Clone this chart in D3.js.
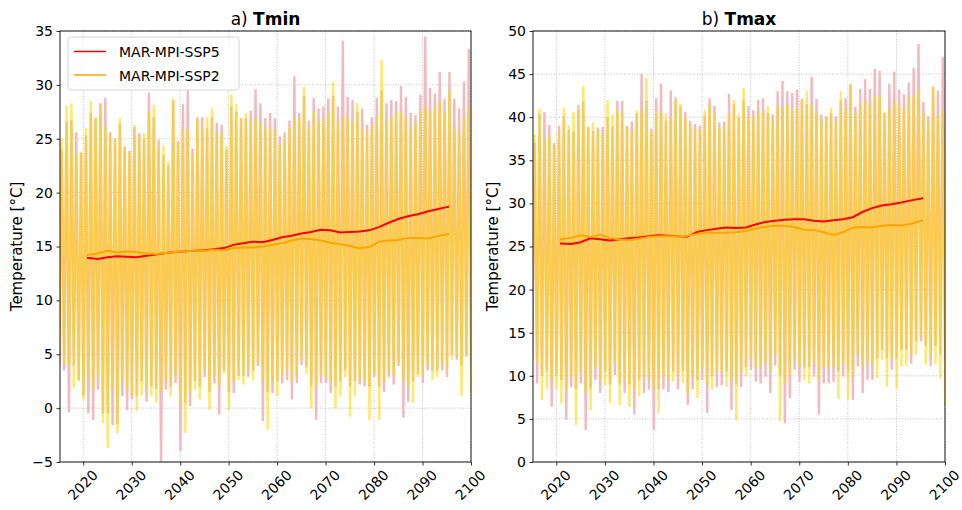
<!DOCTYPE html>
<html>
<head>
<meta charset="utf-8">
<script src="https://cdn.jsdelivr.net/npm/d3@7"></script>
<style>
  body { margin: 0; background: #fff; }
  text { font-family: "DejaVu Sans", sans-serif; fill: #000; }
</style>
</head>
<body>
<svg id="chart" width="962" height="510"></svg>
<script>
// one summer peak and one winter trough per year
var years = d3.range(2015, 2101);

var tminPeakSsp5 = [24.0,
  26.6, 26.7, 25.6, 23.7, 25.3, 27.4, 26.9, 28.3, 28.8, 25.6,
  25.0, 26.4, 24.3, 23.9, 26.1, 25.5, 25.0, 29.3, 27.0, 24.9,
  23.5, 22.5, 28.6, 24.8, 28.2, 29.5, 24.1, 27.0, 27.0, 26.0,
  27.0, 26.5, 26.3, 24.0, 28.0, 27.5, 26.9, 26.9, 27.6, 29.6,
  28.3, 26.9, 27.4, 26.9, 25.2, 25.6, 26.7, 30.8, 27.4, 29.0,
  26.7, 28.8, 27.8, 28.0, 28.7, 29.0, 28.0, 34.1, 28.9, 28.6,
  27.5, 27.8, 26.3, 27.0, 28.8, 29.5, 28.3, 28.6, 28.5, 29.9,
  28.9, 27.4, 27.2, 29.1, 34.5, 29.7, 29.2, 31.2, 28.7, 31.2,
  28.7, 27.8, 30.3, 33.3, 31.0];
var tminPeakSsp2 = [25.0,
  28.1, 28.3, 23.6, 23.8, 26.0, 28.5, 27.0, 28.2, 26.1, 25.5,
  24.9, 26.9, 24.2, 23.8, 26.3, 25.2, 25.5, 27.5, 28.1, 24.3,
  24.3, 22.9, 28.7, 24.6, 26.0, 25.8, 23.5, 26.8, 26.0, 27.0,
  27.8, 25.5, 25.6, 24.3, 29.1, 28.2, 26.9, 27.4, 26.5, 27.0,
  26.5, 25.9, 26.0, 25.8, 24.5, 25.0, 26.0, 27.0, 26.8, 29.8,
  26.0, 27.5, 26.5, 26.8, 27.5, 30.3, 26.5, 27.0, 27.0, 26.5,
  28.3, 26.0, 25.5, 26.2, 27.0, 32.3, 26.5, 27.0, 27.5, 27.5,
  27.0, 26.0, 26.5, 27.5, 28.0, 27.5, 28.0, 28.5, 27.5, 29.5,
  26.0, 25.5, 27.0, 28.0, 28.0];
var tminTroughSsp5 = [4.0,
  3.5, -0.4, 3.9, 2.6, 1.1, -0.5, -1.1, 1.7, -0.5, -0.5,
  -1.6, -1.5, 1.1, -0.2, 0.8, 1.1, 2.5, 0.6, 2.0, 1.8,
  -5.2, 1.7, 2.0, 2.3, -4.0, 0.5, 0.2, 2.5, 2.0, 2.9,
  1.5, 2.3, -0.6, 3.5, 1.5, 1.4, 3.0, 3.0, 2.9, 3.5,
  3.9, -1.2, 1.5, 1.4, 2.5, 2.3, 2.6, 0.8, 2.3, 4.0,
  3.8, 2.0, -1.1, 2.3, 2.3, 1.4, 2.0, 2.5, 3.5, 2.0,
  2.5, 2.2, 2.0, 2.0, 2.9, 2.0, 1.5, 2.9, 2.2, 3.9,
  -0.9, 0.6, 2.5, 3.2, 2.3, 3.5, 3.5, 3.5, 3.5, 2.9,
  5.0, 4.5, 4.0, 4.8, 4.0];
var tminTroughSsp2 = [5.0,
  4.0, 3.9, 1.9, 2.5, 0.8, 2.9, 1.7, 3.0, -1.4, -3.7,
  1.7, -2.3, 2.5, 1.7, 1.1, -0.3, 1.2, 2.0, 1.1, 0.5,
  1.5, 2.5, 1.1, 3.0, 0.5, -2.3, 1.5, 1.7, 0.8, 3.5,
  -0.1, 3.0, 2.0, 3.2, -0.2, 2.5, 2.6, 2.2, 3.5, 2.6,
  4.2, 2.5, -2.0, 2.5, 1.1, 3.0, 3.5, 2.5, 3.0, 4.5,
  3.2, 0.0, 2.0, 3.0, 2.8, 2.5, 0.0, 1.1, 2.9, -0.8,
  1.1, 2.8, 2.5, -1.1, 3.2, -1.1, 2.5, 3.5, 3.0, 4.2,
  2.5, 2.0, 0.5, 2.9, 3.0, 4.0, 2.6, 2.9, 4.0, 3.5,
  4.5, 5.0, 1.1, 5.0, 1.5];

var tmaxPeakSsp5 = [37.0,
  40.4, 40.6, 39.1, 37.0, 39.0, 40.1, 38.5, 38.3, 41.4, 41.8,
  38.9, 38.4, 38.8, 38.9, 40.0, 38.9, 41.9, 41.9, 39.0, 39.5,
  40.4, 45.0, 41.9, 38.7, 42.2, 43.9, 39.6, 43.1, 42.3, 41.2,
  40.6, 39.6, 39.2, 39.0, 40.2, 42.2, 41.3, 39.4, 39.5, 42.7,
  41.5, 40.0, 42.0, 41.3, 40.8, 42.0, 42.2, 40.5, 40.3, 43.0,
  44.2, 43.0, 42.8, 43.2, 42.1, 41.5, 44.7, 42.1, 40.3, 40.1,
  40.5, 40.1, 42.0, 42.2, 43.8, 41.2, 43.3, 44.4, 43.3, 45.6,
  45.4, 40.4, 43.9, 45.3, 43.2, 42.7, 44.0, 45.7, 48.5, 41.8,
  40.1, 43.5, 43.1, 47.0, 45.0];
var tmaxPeakSsp2 = [38.0,
  41.0, 37.4, 38.0, 36.8, 38.3, 41.1, 39.1, 40.6, 40.8, 43.6,
  38.8, 39.4, 38.5, 38.0, 42.0, 40.3, 40.8, 40.6, 38.9, 38.5,
  40.8, 40.8, 44.6, 38.3, 40.5, 40.6, 40.4, 39.8, 42.0, 41.6,
  39.9, 39.1, 38.7, 38.5, 40.8, 41.6, 40.4, 38.8, 38.8, 40.4,
  42.0, 40.3, 43.4, 40.0, 40.0, 40.8, 40.5, 41.3, 39.5, 41.3,
  41.0, 41.5, 40.8, 41.0, 42.0, 43.0, 41.5, 40.5, 39.8, 40.0,
  41.1, 39.5, 43.0, 41.0, 43.9, 40.5, 41.5, 42.0, 41.5, 42.5,
  42.5, 40.6, 41.0, 42.0, 41.5, 41.0, 42.5, 42.5, 43.2, 40.5,
  39.5, 43.6, 40.0, 41.0, 41.0];
var tmaxTroughSsp5 = [12.0,
  9.1, 10.0, 10.5, 6.4, 10.0, 9.5, 4.9, 8.7, 8.5, 9.1,
  3.7, 8.5, 9.5, 8.0, 10.5, 9.0, 10.1, 9.0, 8.0, 9.0,
  5.5, 9.5, 8.0, 8.4, 3.7, 8.5, 8.4, 8.1, 10.5, 8.4,
  10.5, 6.6, 8.4, 9.5, 9.5, 5.7, 10.0, 8.7, 8.9, 10.5,
  6.0, 9.0, 8.7, 11.0, 10.7, 9.3, 9.1, 9.9, 8.0, 11.2,
  10.0, 4.5, 7.4, 10.7, 9.3, 11.0, 11.0, 9.9, 5.5, 9.1,
  9.1, 9.3, 10.5, 9.9, 10.5, 7.2, 11.1, 8.0, 9.5, 9.5,
  12.0, 13.0, 12.0, 10.7, 12.0, 13.0, 13.0, 11.4, 14.0, 14.0,
  13.5, 11.1, 13.5, 12.5, 12.0];
var tmaxTroughSsp2 = [13.0,
  11.5, 7.2, 8.4, 9.5, 8.4, 6.8, 8.5, 10.0, 4.3, 10.5,
  8.0, 6.0, 11.0, 9.5, 8.9, 6.8, 11.5, 6.6, 9.5, 6.4,
  8.5, 7.6, 10.0, 9.5, 8.5, 5.6, 10.0, 9.5, 9.3, 10.0,
  9.1, 8.0, 10.0, 7.4, 11.0, 9.0, 8.4, 10.5, 10.5, 8.7,
  9.5, 4.8, 10.5, 9.9, 12.0, 11.0, 11.0, 11.5, 10.5, 12.5,
  4.7, 9.0, 10.0, 12.0, 11.0, 9.5, 9.1, 11.5, 9.5, 11.0,
  11.0, 11.0, 7.3, 11.5, 7.2, 10.0, 12.5, 11.0, 11.5, 11.5,
  9.7, 11.8, 8.7, 12.0, 8.5, 11.1, 11.1, 12.5, 12.4, 14.5,
  11.3, 12.5, 11.3, 9.7, 6.6];

// running means, every second year
var meanYears = [2020.75, 2023, 2025, 2027, 2029, 2031, 2033, 2035, 2037, 2039,
  2041, 2043, 2045, 2047, 2049, 2051, 2053, 2055, 2057, 2059,
  2061, 2063, 2065, 2067, 2069, 2071, 2073, 2075, 2077, 2079,
  2081, 2083, 2085, 2087, 2089, 2091, 2093, 2095.5];
var tminMeanSsp5 = [13.95, 13.85, 14.0, 14.1, 14.05, 14.0, 14.15, 14.25, 14.4, 14.5,
  14.55, 14.6, 14.65, 14.75, 14.85, 15.15, 15.3, 15.45, 15.4, 15.6,
  15.85, 16.0, 16.2, 16.35, 16.55, 16.5, 16.3, 16.35, 16.4, 16.5,
  16.8, 17.2, 17.55, 17.8, 18.0, 18.25, 18.45, 18.7];
var tminMeanSsp2 = [14.2, 14.35, 14.6, 14.45, 14.55, 14.5, 14.35, 14.3, 14.4, 14.5,
  14.55, 14.6, 14.6, 14.7, 14.65, 14.85, 14.9, 14.9, 15.0, 15.15,
  15.3, 15.55, 15.75, 15.7, 15.55, 15.35, 15.2, 15.05, 14.85, 14.95,
  15.45, 15.55, 15.6, 15.8, 15.8, 15.75, 15.95, 16.15];
var tmaxMeanSsp5 = [25.35, 25.3, 25.5, 25.95, 25.85, 25.7, 25.85, 25.95, 26.05, 26.2,
  26.3, 26.25, 26.2, 26.15, 26.7, 26.9, 27.05, 27.2, 27.15, 27.2,
  27.55, 27.85, 28.0, 28.1, 28.15, 28.15, 28.0, 27.9, 28.05, 28.15,
  28.4, 29.0, 29.45, 29.75, 29.9, 30.1, 30.35, 30.6];
var tmaxMeanSsp2 = [25.8, 26.0, 26.3, 26.1, 26.4, 26.0, 25.8, 25.75, 25.9, 26.1,
  26.2, 26.2, 26.2, 26.25, 26.45, 26.6, 26.6, 26.6, 26.65, 26.8,
  27.1, 27.3, 27.4, 27.4, 27.25, 26.95, 26.9, 26.65, 26.35, 26.65,
  27.2, 27.25, 27.2, 27.4, 27.5, 27.45, 27.65, 28.05];

var xTicks = [2020, 2030, 2040, 2050, 2060, 2070, 2080, 2090, 2100];
var seriesNames = ["MAR-MPI-SSP5", "MAR-MPI-SSP2"];

var svg = d3.select("#chart");

function zigzag(trough, peak) {
  var pts = [];
  years.forEach(function(yr, i) {
    pts.push([yr + 0.05, trough[i]]);
    pts.push([yr + 0.55, peak[i]]);
  });
  return pts;
}

function drawPanel(cfg) {
  var g = svg.append("g");
  var x = d3.scaleLinear().domain([2015.2, 2100]).range([cfg.left, cfg.right]);
  var y = d3.scaleLinear().domain(cfg.yDomain).range([cfg.bottom, cfg.top]);
  var yTicks = d3.range(cfg.yDomain[0], cfg.yDomain[1] + 0.1, 5);

  var clipId = "clip" + cfg.id;
  g.append("clipPath").attr("id", clipId)
    .append("rect")
    .attr("x", cfg.left).attr("y", cfg.top)
    .attr("width", cfg.right - cfg.left).attr("height", cfg.bottom - cfg.top);

  // grid
  var grid = g.append("g")
    .attr("stroke", "#b0b0b0")
    .attr("stroke-width", 0.8)
    .attr("stroke-dasharray", "1,1.6");
  grid.selectAll(".gx").data(xTicks).enter().append("line")
    .attr("x1", function(d){return x(d)}).attr("x2", function(d){return x(d)})
    .attr("y1", cfg.top).attr("y2", cfg.bottom);
  grid.selectAll(".gy").data(yTicks).enter().append("line")
    .attr("y1", function(d){return y(d)}).attr("y2", function(d){return y(d)})
    .attr("x1", cfg.left).attr("x2", cfg.right);

  var plot = g.append("g").attr("clip-path", "url(#" + clipId + ")");
  var line = d3.line()
    .x(function(d){return x(d[0])})
    .y(function(d){return y(d[1])});

  plot.append("path")
    .attr("d", line(zigzag(cfg.trough5, cfg.peak5)))
    .attr("fill", "none")
    .attr("stroke", "#f4b9bf")
    .attr("stroke-width", 2.4);
  plot.append("path")
    .attr("d", line(zigzag(cfg.trough2, cfg.peak2)))
    .attr("fill", "none")
    .attr("stroke", "#ffd700")
    .attr("stroke-opacity", 0.58)
    .attr("stroke-width", 2.4);

  var meanLine = d3.line()
    .x(function(d, i){return x(meanYears[i])})
    .y(function(d){return y(d)});
  plot.append("path")
    .attr("d", meanLine(cfg.mean5))
    .attr("fill", "none")
    .attr("stroke", "#ff0000")
    .attr("stroke-width", 2);
  plot.append("path")
    .attr("d", meanLine(cfg.mean2))
    .attr("fill", "none")
    .attr("stroke", "#ffa500")
    .attr("stroke-width", 2);

  // axes
  var xAxis = g.append("g")
    .attr("transform", "translate(0," + cfg.bottom + ")")
    .call(d3.axisBottom(x).tickValues(xTicks).tickFormat(d3.format("d"))
      .tickSize(3.5).tickPadding(3.5));
  xAxis.select(".domain").remove();
  xAxis.selectAll("text")
    .attr("y", 0).attr("dy", "0.35em")
    .attr("font-size", 14)
    .attr("transform", "translate(-1,23) rotate(-45)");

  var yAxis = g.append("g")
    .attr("transform", "translate(" + cfg.left + ",0)")
    .call(d3.axisLeft(y).tickValues(yTicks)
      .tickFormat(function(d){return d < 0 ? "\u2212" + Math.abs(d) : d})
      .tickSize(3.5).tickPadding(3.5));
  yAxis.select(".domain").remove();
  yAxis.selectAll("text").attr("font-size", 14);

  g.selectAll(".tick line").attr("stroke", "#000").attr("stroke-width", 0.8);
  g.selectAll(".tick text").style("font-family", "DejaVu Sans").attr("fill", "#000");

  g.append("rect")
    .attr("x", cfg.left).attr("y", cfg.top)
    .attr("width", cfg.right - cfg.left).attr("height", cfg.bottom - cfg.top)
    .attr("fill", "none").attr("stroke", "#000").attr("stroke-width", 0.9);

  g.append("text")
    .attr("transform", "translate(" + cfg.ylabelX + "," + ((cfg.top + cfg.bottom) / 2) + ") rotate(-90)")
    .attr("text-anchor", "middle")
    .attr("font-size", 15)
    .text("Temperature [\u00b0C]");

  var title = g.append("text")
    .attr("x", (cfg.left + cfg.right) / 2).attr("y", 25)
    .attr("text-anchor", "middle")
    .attr("font-size", 17);
  title.append("tspan").text(cfg.prefix + " ");
  title.append("tspan").attr("font-weight", "bold").text(cfg.name);

  if (cfg.legend) {
    var lg = g.append("g").attr("transform", "translate(" + (cfg.left + 8) + "," + (cfg.top + 6) + ")");
    lg.append("rect")
      .attr("width", 171).attr("height", 53).attr("rx", 3)
      .attr("fill", "#fff").attr("fill-opacity", 0.8)
      .attr("stroke", "#cccccc").attr("stroke-width", 0.8);
    var colors = ["#ff0000", "#ffa500"];
    seriesNames.forEach(function(name, i) {
      lg.append("line")
        .attr("x1", 6).attr("x2", 38)
        .attr("y1", 14.5 + i * 23.5).attr("y2", 14.5 + i * 23.5)
        .attr("stroke", colors[i]).attr("stroke-width", 1.5);
      lg.append("text")
        .attr("x", 51).attr("y", 20 + i * 23.5)
        .attr("font-size", 14)
        .text(name);
    });
  }
}

drawPanel({
  id: 1, left: 60, right: 471, top: 31, bottom: 462,
  yDomain: [-5, 35], ylabelX: 22, prefix: "a)", name: "Tmin", legend: true,
  peak5: tminPeakSsp5, peak2: tminPeakSsp2, trough5: tminTroughSsp5, trough2: tminTroughSsp2,
  mean5: tminMeanSsp5, mean2: tminMeanSsp2
});
drawPanel({
  id: 2, left: 533, right: 945, top: 31, bottom: 462,
  yDomain: [0, 50], ylabelX: 498, prefix: "b)", name: "Tmax", legend: false,
  peak5: tmaxPeakSsp5, peak2: tmaxPeakSsp2, trough5: tmaxTroughSsp5, trough2: tmaxTroughSsp2,
  mean5: tmaxMeanSsp5, mean2: tmaxMeanSsp2
});
</script>
</body>
</html>
